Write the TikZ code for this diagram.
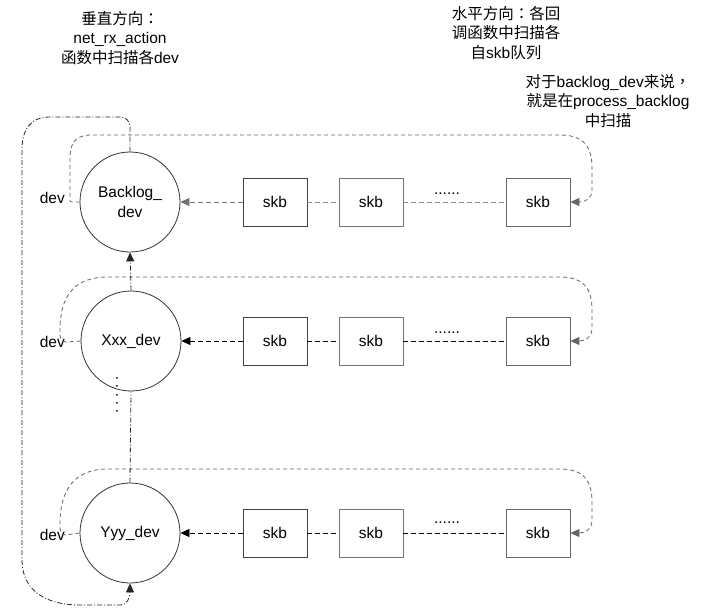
\documentclass[tikz,border=0pt]{standalone}
\usepackage{fontspec}
\setmainfont{Liberation Sans}
\newfontfamily\cjk{Noto Sans CJK SC}
\newfontfamily\cjkp{Noto Sans CJK TC}
\usetikzlibrary{arrows.meta}
\newcommand{\zh}[1]{{\cjk #1}}
\newcommand{\zp}[1]{{\cjkp #1}}
\begin{document}
\begin{tikzpicture}[x=1pt,y=-1pt,
  every node/.style={font=\fontsize{15.5}{19.5}\selectfont},
  devc/.style={circle,draw=black!80,line width=0.8pt,minimum size=100pt,inner sep=0pt,align=center},
  skbbox/.style={draw=black!75,line width=0.8pt,minimum width=64pt,minimum height=48pt,inner sep=0pt},
  lnk/.style={line width=0.8pt,dash pattern=on 5pt off 3pt},
  loopln/.style={line width=0.8pt,dash pattern=on 4pt off 3pt,draw=black!60},
  dd/.style={line width=0.8pt,dash pattern=on 5pt off 2pt on 1pt off 2pt,draw=black!85},
  tip/.style={-{Stealth[length=9pt,width=8pt,inset=0pt]}}
]
\useasboundingbox[fill=white] (0,0) rectangle (710,611);

% top texts
\node[align=center] (t1) at (120,38) {\zh{垂直方向}\zp{：}\\net\_rx\_action\\\zh{函数中扫描各}dev};
\node[align=center] (t2) at (506,33) {\zh{水平方向}\zp{：}\zh{各回}\\\zh{调函数中扫描各}\\\zh{自}skb\zh{队列}};
\node[align=center] (t3) at (608,101) {\zh{对于}backlog\_dev\zh{来说}\zp{，}\\\zh{就是在}process\_backlog\\\zh{中扫描}};

% dev nodes
\node[devc] (B) at (130,202) {Backlog\_\\dev};
\node[devc] (X) at (131,341) {Xxx\_dev};
\node[devc] (Y) at (130,533) {Yyy\_dev};

% skb boxes
\node[skbbox] (b1) at (275,202) {skb};
\node[skbbox,draw=black!55] (b2) at (371,202) {skb};
\node[skbbox,draw=black!60] (b3) at (538,202) {skb};
\node[skbbox] (c1) at (275,341) {skb};
\node[skbbox,draw=black!55] (c2) at (371,341) {skb};
\node[skbbox,draw=black!60] (c3) at (538,341) {skb};
\node[skbbox] (e1) at (275,533) {skb};
\node[skbbox,draw=black!55] (e2) at (371,533) {skb};
\node[skbbox,draw=black!60] (e3) at (538,533) {skb};

% ellipses
\node (el1) at (447,194) {......};
\node (el2) at (447,333) {......};
\node (el3) at (447,523) {......};
\node[rotate=90] (vd) at (117,395) {.\kern4pt.\kern4pt.\kern4pt.\kern4pt.};

% dev labels
\node[anchor=east,inner sep=1pt] (d1) at (66,198) {dev};
\node[anchor=east,inner sep=1pt] (d2) at (66,342) {dev};
\node[anchor=east,inner sep=1pt] (d3) at (66,535) {dev};

% row 1 links
\draw[lnk,draw=black!55,tip] (b1.west) -- (B.east);
\draw[lnk,draw=black!45] (b1.east) -- (b2.west);
\draw[lnk,draw=black!45] (b2.east) -- (b3.west);
% row 2 links
\draw[lnk,tip] (c1.west) -- (X.east);
\draw[lnk] (c1.east) -- (c2.west);
\draw[lnk] (c2.east) -- (c3.west);
% row 3 links
\draw[lnk,tip] (e1.west) -- (Y.east);
\draw[lnk] (e1.east) -- (e2.west);
\draw[lnk] (e2.east) -- (e3.west);

% loops
\draw[loopln,tip] (B.west) -- (72,202) .. controls (70,202) .. (70,198) -- (70,158)
  .. controls (70,142) and (76,135) .. (92,135) -- (560,135)
  .. controls (585,135) and (592,148) .. (592,168) -- (592,190)
  .. controls (592,198) and (586,202) .. (b3.east);
\draw[loopln,tip] (X.west) -- (d2.east) .. controls (60,341) and (60,338) .. (60,330)
  .. controls (60,295) and (75,277) .. (108,277) -- (560,277)
  .. controls (585,277) and (592,290) .. (592,310) -- (592,328)
  .. controls (592,337) and (586,341) .. (c3.east);
\draw[loopln,tip] (Y.west) -- (d3.east) .. controls (60,535) and (60,531) .. (60,524)
  .. controls (60,489) and (75,469) .. (108,469) -- (560,469)
  .. controls (585,469) and (592,482) .. (592,502) -- (592,520)
  .. controls (592,529) and (586,533) .. (e3.east);

% vertical chain
\draw[dd,tip] (X.north) -- (B.south);
\draw[dd] (Y.north) -- (X.south);
\draw[dd,tip] (B.north) -- (130,128) .. controls (130,120) and (126,117) .. (118,117)
  -- (50,117) .. controls (30,117) and (22,130) .. (22,150) -- (22,560)
  .. controls (22,590) and (45,605) .. (80,605) -- (120,605)
  .. controls (127,605) and (130,598) .. (Y.south);
\end{tikzpicture}
\end{document}
